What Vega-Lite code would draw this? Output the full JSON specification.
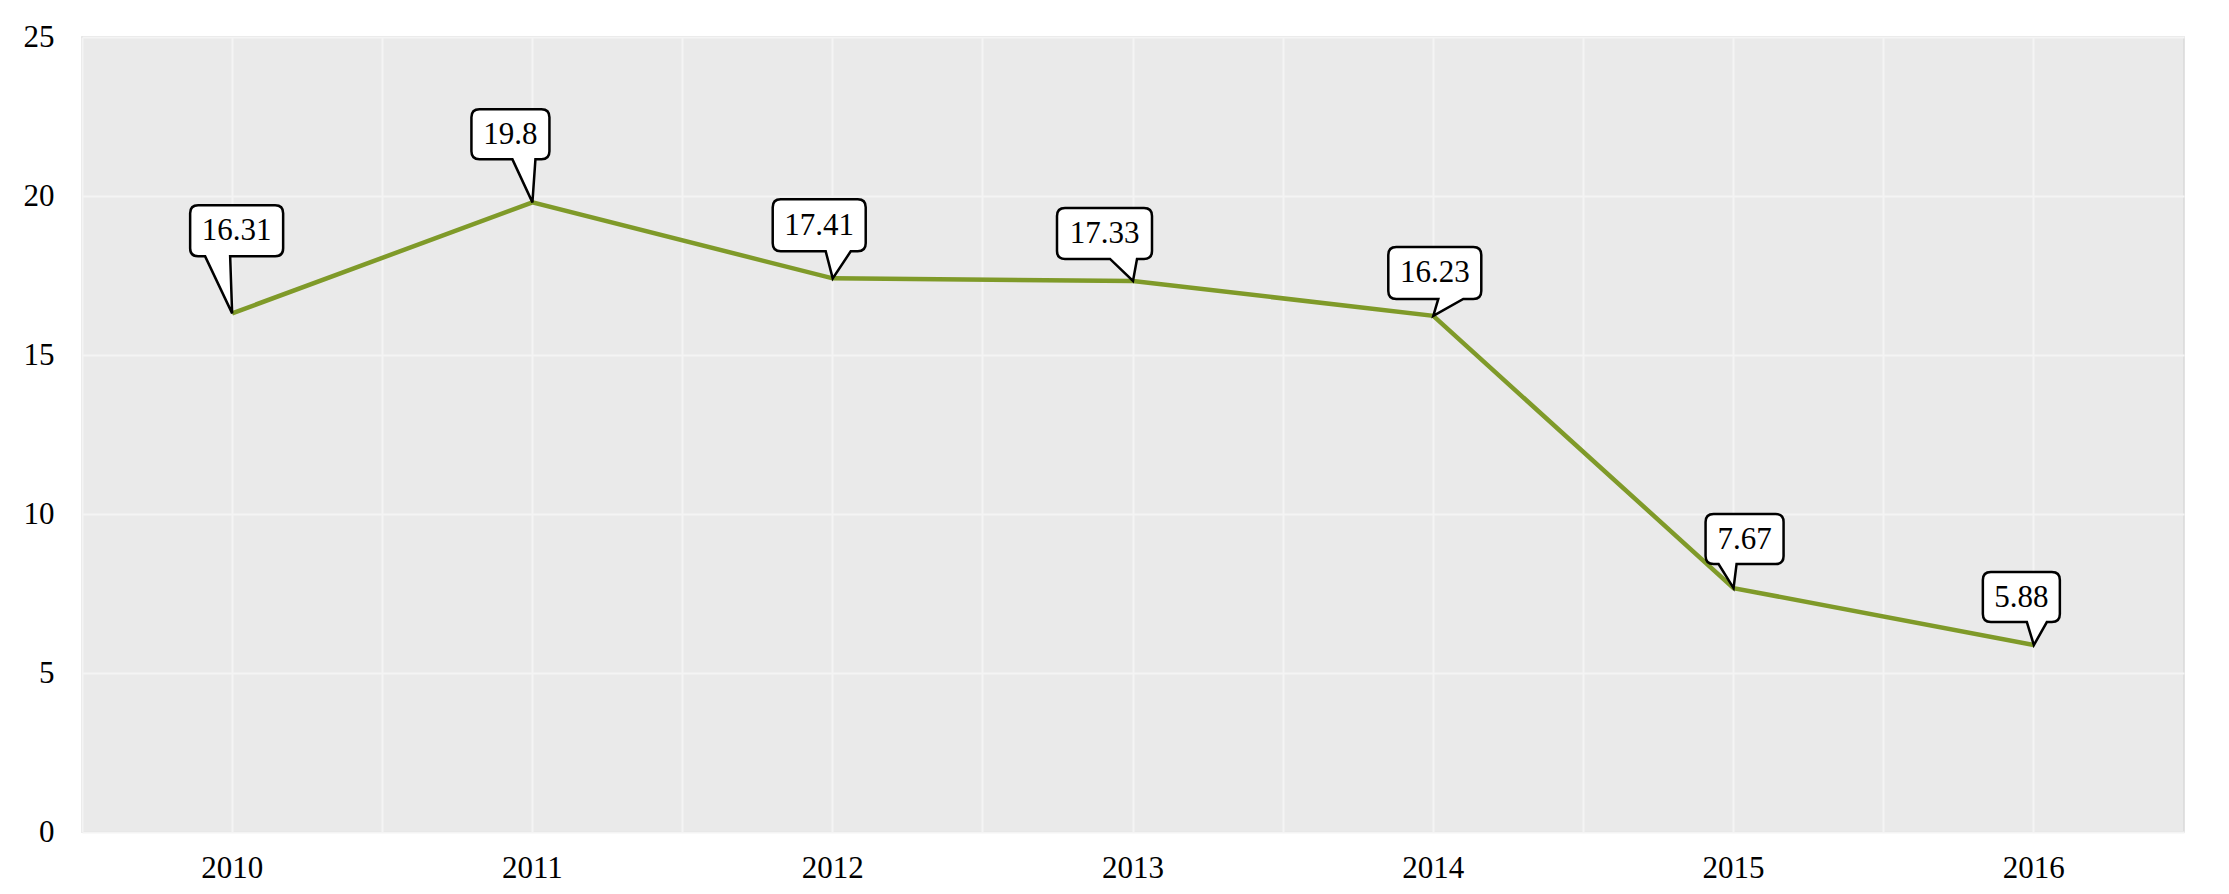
{
  "$schema": "https://vega.github.io/schema/vega-lite/v6.json",
  "width": 2102,
  "height": 795,
  "autosize": {"type": "none"},
  "padding": {"left": 82, "top": 37, "right": 45, "bottom": 62},
  "background": "white",
  "config": {
    "view": {"fill": "#eaeaea", "stroke": "#d9d9d9", "strokeWidth": 1.5},
    "font": "Liberation Serif",
    "text": {"font": "Liberation Serif"}
  },
  "data": {
    "values": [
      {"year": "2010", "value": 16.31},
      {"year": "2011", "value": 19.8},
      {"year": "2012", "value": 17.41},
      {"year": "2013", "value": 17.33},
      {"year": "2014", "value": 16.23},
      {"year": "2015", "value": 7.67},
      {"year": "2016", "value": 5.88}
    ]
  },
  "encoding": {
    "x": {"field": "year", "type": "ordinal", "scale": {"type": "band", "paddingInner": 0, "paddingOuter": 0}, "axis": null},
    "y": {
      "field": "value", "type": "quantitative",
      "scale": {"domain": [0, 25], "nice": false, "zero": true},
      "axis": {
        "values": [0, 5, 10, 15, 20, 25], "grid": true, "gridColor": "#f4f4f4", "gridWidth": 2,
        "domain": false, "ticks": false, "labelFontSize": 31, "labelColor": "black",
        "labelPadding": 28, "title": null, "labelFont": "Liberation Serif"
      }
    }
  },
  "layer": [
    {
      "mark": {"type": "line", "color": "#7f9a29", "strokeWidth": 4.5},
      "encoding": {
        "x": {
          "field": "year", "type": "ordinal", "scale": {"type": "band", "paddingInner": 0, "paddingOuter": 0},
          "axis": {
            "orient": "bottom", "bandPosition": 0.5, "grid": true, "gridColor": "#f4f4f4", "gridWidth": 2,
            "labelAngle": 0, "ticks": false, "domain": false, "title": null, "labelFontSize": 31,
            "labelColor": "black", "labelPadding": 21, "labelFont": "Liberation Serif"
          }
        }
      }
    },
    {
      "mark": {"type": "point", "filled": true, "fill": "white", "stroke": "black", "strokeWidth": 2.5, "size": 4, "opacity": 1},
      "encoding": {
        "x": {
          "field": "year", "type": "ordinal", "scale": {"type": "band", "paddingInner": 0, "paddingOuter": 0},
          "axis": {
            "orient": "top", "bandPosition": 0, "grid": true, "gridColor": "#f4f4f4", "gridWidth": 2,
            "labels": false, "ticks": false, "domain": false, "title": null, "minExtent": 0, "maxExtent": 0
          }
        },
        "shape": {
          "field": "year", "type": "nominal", "legend": null,
          "scale": {
            "domain": ["2010", "2011", "2012", "2013", "2014", "2015", "2016"],
            "range": [
              "M-34,-108 H43 Q51,-108 51,-100 V-65 Q51,-57 43,-57 H-2 L0,0 L-27,-57 H-34 Q-42,-57 -42,-65 V-100 Q-42,-108 -34,-108 Z",
              "M-53,-93 H9 Q17,-93 17,-85 V-51 Q17,-43 9,-43 H3 L0,0 L-20,-43 H-53 Q-61,-43 -61,-51 V-85 Q-61,-93 -53,-93 Z",
              "M-52,-79 H25 Q33,-79 33,-71 V-35 Q33,-27 25,-27 H18 L0,0 L-7,-27 H-52 Q-60,-27 -60,-35 V-71 Q-60,-79 -52,-79 Z",
              "M-68,-73 H11 Q19,-73 19,-65 V-30 Q19,-22 11,-22 H4 L0,0 L-23,-22 H-68 Q-76,-22 -76,-30 V-65 Q-76,-73 -68,-73 Z",
              "M-37,-69 H40 Q48,-69 48,-61 V-25 Q48,-17 40,-17 H30 L0,0 L5,-17 H-37 Q-45,-17 -45,-25 V-61 Q-45,-69 -37,-69 Z",
              "M-20,-74 H42 Q50,-74 50,-66 V-32 Q50,-24 42,-24 H3 L0,0 L-15,-24 H-20 Q-28,-24 -28,-32 V-66 Q-28,-74 -20,-74 Z",
              "M-43,-73 H18 Q26,-73 26,-65 V-31 Q26,-23 18,-23 H13 L0,0 L-7,-23 H-43 Q-51,-23 -51,-31 V-65 Q-51,-73 -43,-73 Z"
            ]
          }
        }
      }
    },
    {
      "transform": [{"filter": "datum.year == '2010'"}],
      "mark": {"type": "text", "font": "Liberation Serif", "dx": 4.5, "dy": -82, "fontSize": 31, "color": "black", "baseline": "middle", "align": "center"},
      "encoding": {"text": {"field": "value", "type": "quantitative", "format": ".4~g"}}
    },
    {
      "transform": [{"filter": "datum.year == '2011'"}],
      "mark": {"type": "text", "font": "Liberation Serif", "dx": -22, "dy": -67, "fontSize": 31, "color": "black", "baseline": "middle", "align": "center"},
      "encoding": {"text": {"field": "value", "type": "quantitative", "format": ".4~g"}}
    },
    {
      "transform": [{"filter": "datum.year == '2012'"}],
      "mark": {"type": "text", "font": "Liberation Serif", "dx": -13.5, "dy": -52.5, "fontSize": 31, "color": "black", "baseline": "middle", "align": "center"},
      "encoding": {"text": {"field": "value", "type": "quantitative", "format": ".4~g"}}
    },
    {
      "transform": [{"filter": "datum.year == '2013'"}],
      "mark": {"type": "text", "font": "Liberation Serif", "dx": -28.5, "dy": -47, "fontSize": 31, "color": "black", "baseline": "middle", "align": "center"},
      "encoding": {"text": {"field": "value", "type": "quantitative", "format": ".4~g"}}
    },
    {
      "transform": [{"filter": "datum.year == '2014'"}],
      "mark": {"type": "text", "font": "Liberation Serif", "dx": 1.5, "dy": -42.5, "fontSize": 31, "color": "black", "baseline": "middle", "align": "center"},
      "encoding": {"text": {"field": "value", "type": "quantitative", "format": ".4~g"}}
    },
    {
      "transform": [{"filter": "datum.year == '2015'"}],
      "mark": {"type": "text", "font": "Liberation Serif", "dx": 11, "dy": -48.5, "fontSize": 31, "color": "black", "baseline": "middle", "align": "center"},
      "encoding": {"text": {"field": "value", "type": "quantitative", "format": ".4~g"}}
    },
    {
      "transform": [{"filter": "datum.year == '2016'"}],
      "mark": {"type": "text", "font": "Liberation Serif", "dx": -12.5, "dy": -47.5, "fontSize": 31, "color": "black", "baseline": "middle", "align": "center"},
      "encoding": {"text": {"field": "value", "type": "quantitative", "format": ".4~g"}}
    }
  ],
  "resolve": {"axis": {"x": "independent"}}
}
